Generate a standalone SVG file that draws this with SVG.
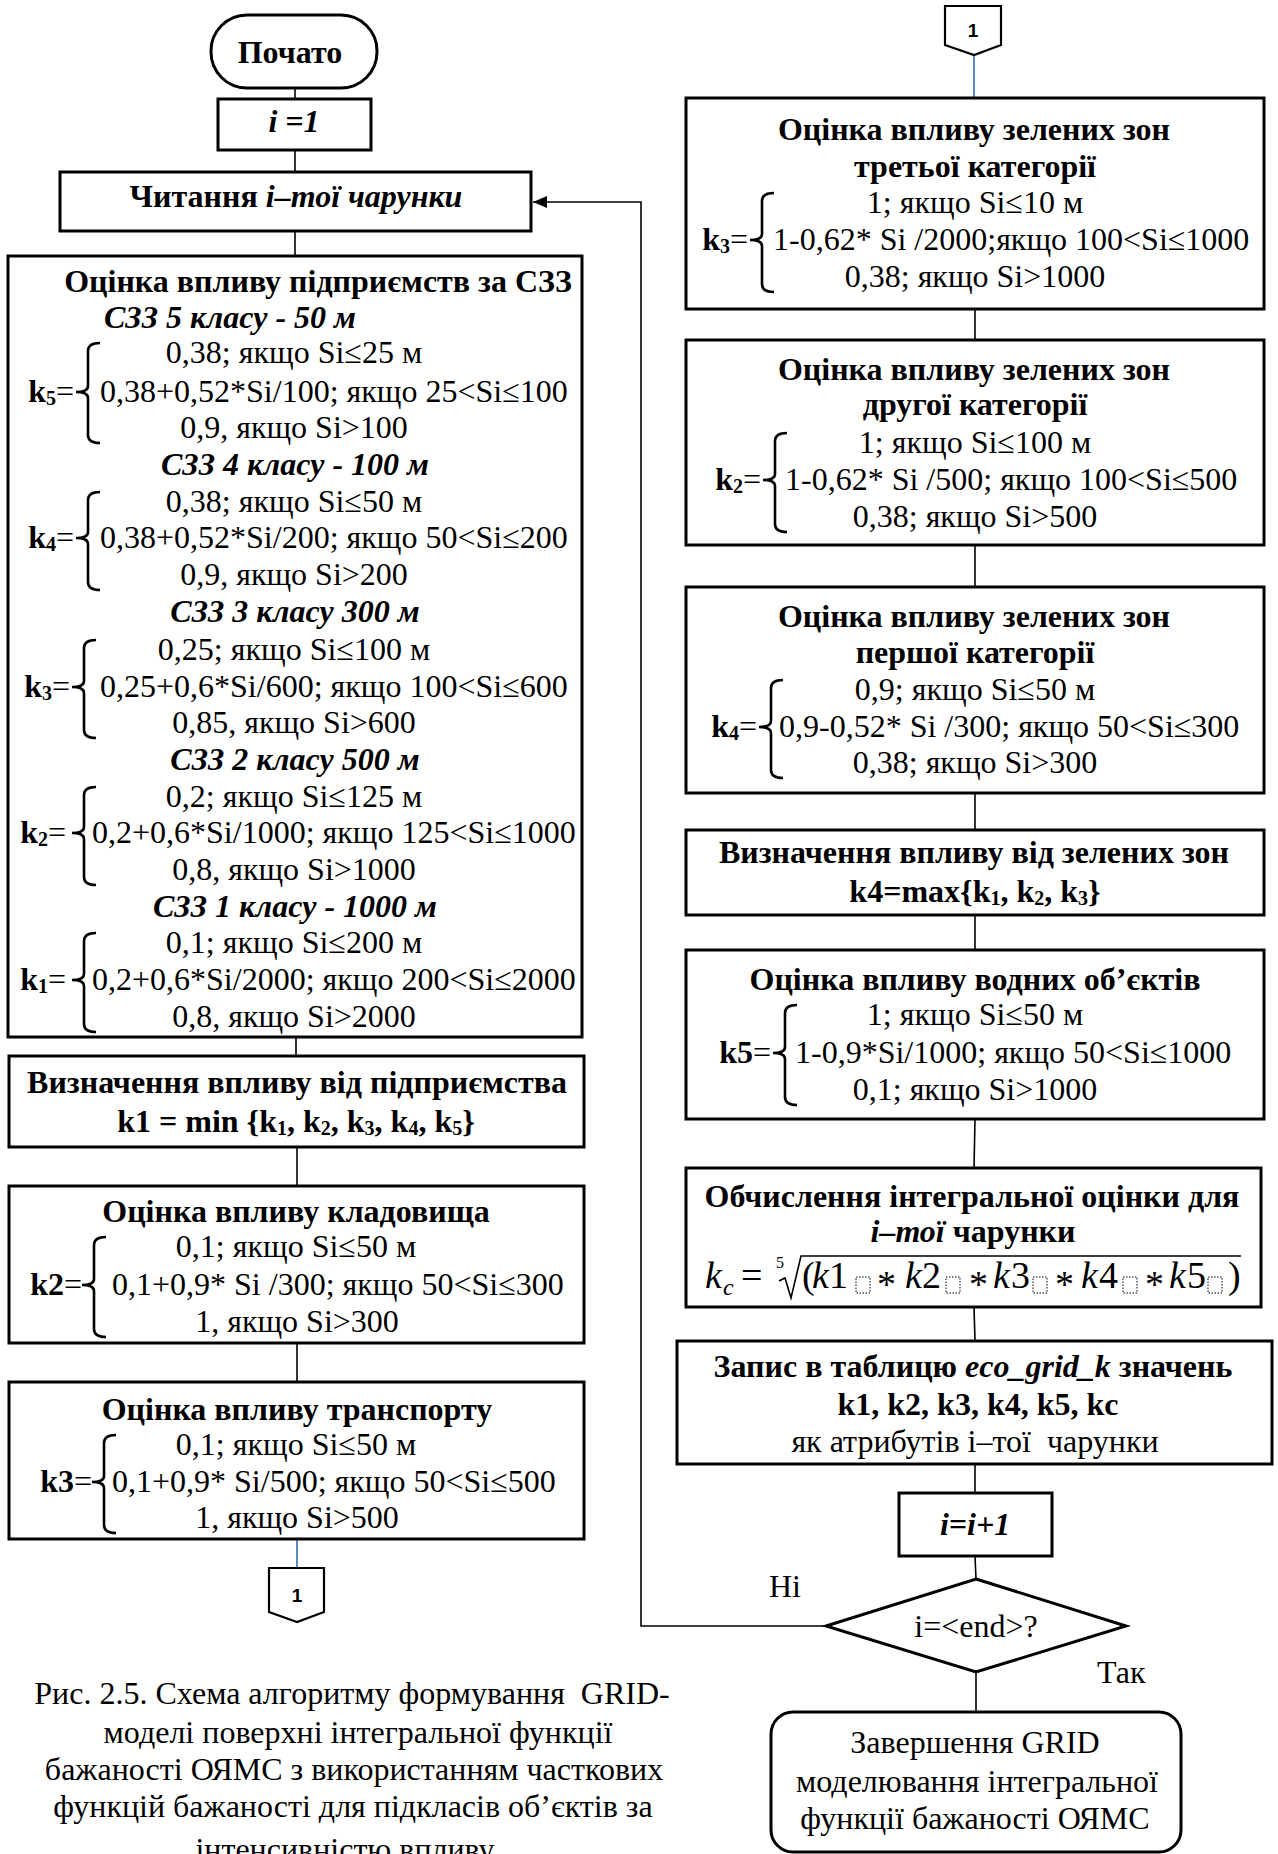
<svg xmlns="http://www.w3.org/2000/svg" width="1278" height="1854" viewBox="0 0 1278 1854">
<style>
.bx{fill:#fff;stroke:#000;stroke-width:3}
.t{font-family:"Liberation Serif","Times New Roman",serif;font-size:32px;fill:#000}
.b{font-weight:bold}
.i{font-style:italic}
.m{text-anchor:middle}
.e{text-anchor:end}
.n{font-weight:normal}
.sub{font-size:20px}
.c{stroke:#000;stroke-width:1.6;fill:none}
.bl{stroke:#4a7ebb;stroke-width:1.8;fill:none}
.br{stroke:#000;stroke-width:2.6;fill:none}
.off{fill:#fff;stroke:#000;stroke-width:2.2}
.ol{font-family:"Liberation Sans",Arial,sans-serif;font-weight:bold;font-size:19px;text-anchor:middle}
.mx{font-family:"Liberation Serif","Times New Roman",serif;font-size:38px;fill:#000}
</style>
<defs>
<marker id="ah" viewBox="0 0 14 12" refX="14" refY="6" markerWidth="14" markerHeight="12" markerUnits="userSpaceOnUse" orient="auto"><path d="M0,0 L14,6 L0,12 Z" fill="#000"/></marker>
</defs>
<rect width="1278" height="1854" fill="#fff"/>

<g id="connectors">
<line class="c" x1="295" y1="88" x2="295" y2="99"/>
<line class="c" x1="295" y1="150" x2="295" y2="172"/>
<line class="c" x1="295" y1="231" x2="295" y2="256"/>
<line class="c" x1="296" y1="1037" x2="296" y2="1056"/>
<line class="c" x1="297" y1="1147" x2="297" y2="1186"/>
<line class="c" x1="297" y1="1343" x2="297" y2="1382"/>
<line class="bl" x1="297" y1="1539" x2="297" y2="1568"/>
<line class="bl" x1="974" y1="55" x2="974" y2="98"/>
<line class="c" x1="975" y1="309" x2="975" y2="340"/>
<line class="c" x1="975" y1="545" x2="975" y2="587"/>
<line class="c" x1="975" y1="793" x2="975" y2="830"/>
<line class="c" x1="975" y1="915" x2="975" y2="950"/>
<line class="c" x1="975" y1="1119" x2="974" y2="1168"/>
<line class="c" x1="974" y1="1307" x2="975" y2="1341"/>
<line class="c" x1="975" y1="1464" x2="975" y2="1493"/>
<line class="c" x1="975" y1="1556" x2="976" y2="1579"/>
<line class="c" x1="976" y1="1672" x2="976" y2="1712"/>
<polyline class="c" points="826,1626 641,1626 641,202 533,202" marker-end="url(#ah)"/>
<text class="t" x="769" y="1597">Ні</text>
<text class="t" x="1097" y="1683">Так</text>
</g>

<g id="start">
<rect class="bx" x="211" y="15" width="166" height="73" rx="36" ry="36"/>
<text class="t b m" x="290" y="63">Почато</text>
</g>

<g id="init">
<rect class="bx" x="218" y="99" width="153" height="51"/>
<text class="t b i m" x="294" y="132">i =1</text>
</g>

<g id="read">
<rect class="bx" x="60" y="172" width="471" height="59"/>
<text class="t b m" x="296" y="207">Читання <tspan class="i">і–тої чарунки</tspan></text>
</g>

<g id="szz">
<rect class="bx" x="8" y="256" width="574" height="781"/>
<text class="t b m" x="318" y="292">Оцінка впливу підприємств за СЗЗ</text>
<text class="t b i" x="104" y="328">СЗЗ 5 класу - 50 м</text>
<text class="t m" x="294" y="363">0,38; якщо Si≤25 м</text>
<text class="t b e" x="74" y="402">k<tspan class="sub" dy="3">5</tspan><tspan class="n" dy="-3">=</tspan></text>
<text class="t" x="100" y="402">0,38+0,52*Si/100; якщо 25&lt;Si≤100</text>
<text class="t m" x="294" y="438">0,9, якщо Si&gt;100</text>
<text class="t b i m" x="295" y="475">СЗЗ 4 класу - 100 м</text>
<text class="t m" x="294" y="512">0,38; якщо Si≤50 м</text>
<text class="t b e" x="74" y="548">k<tspan class="sub" dy="3">4</tspan><tspan class="n" dy="-3">=</tspan></text>
<text class="t" x="100" y="548">0,38+0,52*Si/200; якщо 50&lt;Si≤200</text>
<text class="t m" x="294" y="585">0,9, якщо Si&gt;200</text>
<text class="t b i m" x="295" y="622">СЗЗ 3 класу 300 м</text>
<text class="t m" x="294" y="660">0,25; якщо Si≤100 м</text>
<text class="t b e" x="70" y="697">k<tspan class="sub" dy="3">3</tspan><tspan class="n" dy="-3">=</tspan></text>
<text class="t" x="100" y="697">0,25+0,6*Si/600; якщо 100&lt;Si≤600</text>
<text class="t m" x="294" y="733">0,85, якщо Si&gt;600</text>
<text class="t b i m" x="295" y="770">СЗЗ 2 класу 500 м</text>
<text class="t m" x="294" y="807">0,2; якщо Si≤125 м</text>
<text class="t b e" x="66" y="843">k<tspan class="sub" dy="3">2</tspan><tspan class="n" dy="-3">=</tspan></text>
<text class="t" x="92" y="843">0,2+0,6*Si/1000; якщо 125&lt;Si≤1000</text>
<text class="t m" x="294" y="880">0,8, якщо Si&gt;1000</text>
<text class="t b i m" x="295" y="917">СЗЗ 1 класу - 1000 м</text>
<text class="t m" x="294" y="953">0,1; якщо Si≤200 м</text>
<text class="t b e" x="66" y="990">k<tspan class="sub" dy="3">1</tspan><tspan class="n" dy="-3">=</tspan></text>
<text class="t" x="92" y="990">0,2+0,6*Si/2000; якщо 200&lt;Si≤2000</text>
<text class="t m" x="294" y="1027">0,8, якщо Si&gt;2000</text>
<path class="br" d="M100,343 Q88,343 88,351 L88,386 Q88,392 76,392 Q88,392 88,398 L88,435 Q88,443 100,443"/>
<path class="br" d="M100,492 Q88,492 88,500 L88,532 Q88,538 76,538 Q88,538 88,544 L88,582 Q88,590 100,590"/>
<path class="br" d="M96,640 Q84,640 84,648 L84,681 Q84,687 72,687 Q84,687 84,693 L84,730 Q84,738 96,738"/>
<path class="br" d="M96,787 Q84,787 84,795 L84,827 Q84,833 72,833 Q84,833 84,839 L84,877 Q84,885 96,885"/>
<path class="br" d="M96,933 Q84,933 84,941 L84,974 Q84,980 72,980 Q84,980 84,986 L84,1024 Q84,1032 96,1032"/>
</g>

<g id="min-enterprise">
<rect class="bx" x="9" y="1056" width="575" height="91"/>
<text class="t b m" x="297" y="1093">Визначення впливу від підприємства</text>
<text class="t b m" x="296" y="1132">k1 = min {k<tspan class="sub" dy="3">1</tspan><tspan dy="-3">, k</tspan><tspan class="sub" dy="3">2</tspan><tspan dy="-3">, k</tspan><tspan class="sub" dy="3">3</tspan><tspan dy="-3">, k</tspan><tspan class="sub" dy="3">4</tspan><tspan dy="-3">, k</tspan><tspan class="sub" dy="3">5</tspan><tspan dy="-3">}</tspan></text>
</g>

<g id="cemetery">
<rect class="bx" x="9" y="1186" width="575" height="157"/>
<text class="t b m" x="296" y="1222">Оцінка впливу кладовища</text>
<text class="t m" x="296" y="1257">0,1; якщо Si≤50 м</text>
<text class="t b e" x="82" y="1295">k2<tspan class="n">=</tspan></text>
<text class="t" x="112" y="1295">0,1+0,9* Si /300; якщо 50&lt;Si≤300</text>
<text class="t m" x="297" y="1332">1, якщо Si&gt;300</text>
<path class="br" d="M106,1237 Q94,1237 94,1245 L94,1279 Q94,1285 82,1285 Q94,1285 94,1291 L94,1329 Q94,1337 106,1337"/>
</g>

<g id="transport">
<rect class="bx" x="9" y="1382" width="575" height="157"/>
<text class="t b m" x="297" y="1420">Оцінка впливу транспорту</text>
<text class="t m" x="296" y="1455">0,1; якщо Si≤50 м</text>
<text class="t b e" x="92" y="1492">k3<tspan class="n">=</tspan></text>
<text class="t" x="112" y="1492">0,1+0,9* Si/500; якщо 50&lt;Si≤500</text>
<text class="t m" x="297" y="1528">1, якщо Si&gt;500</text>
<path class="br" d="M116,1435 Q104,1435 104,1443 L104,1476 Q104,1482 92,1482 Q104,1482 104,1488 L104,1525 Q104,1533 116,1533"/>
</g>

<g id="offpage-out">
<polygon class="off" points="269,1568 324,1568 324,1612 297,1622 269,1612"/>
<text class="ol" x="297" y="1602">1</text>
</g>

<g id="offpage-in">
<polygon class="off" points="945,6 1001,6 1001,45 974,55 945,45"/>
<text class="ol" x="973" y="37">1</text>
</g>

<g id="green3">
<rect class="bx" x="686" y="98" width="578" height="211"/>
<text class="t b m" x="974" y="140">Оцінка впливу зелених зон</text>
<text class="t b m" x="975" y="177">третьої категорії</text>
<text class="t m" x="975" y="213">1; якщо Si≤10 м</text>
<text class="t b e" x="748" y="250">k<tspan class="sub" dy="3">3</tspan><tspan class="n" dy="-3">=</tspan></text>
<text class="t" x="773" y="250">1-0,62* Si /2000;якщо 100&lt;Si≤1000</text>
<text class="t m" x="975" y="287">0,38; якщо Si&gt;1000</text>
<path class="br" d="M774,193 Q762,193 762,201 L762,234 Q762,240 750,240 Q762,240 762,246 L762,284 Q762,292 774,292"/>
</g>

<g id="green2">
<rect class="bx" x="686" y="340" width="578" height="205"/>
<text class="t b m" x="974" y="380">Оцінка впливу зелених зон</text>
<text class="t b m" x="975" y="415">другої категорії</text>
<text class="t m" x="975" y="453">1; якщо Si≤100 м</text>
<text class="t b e" x="761" y="490">k<tspan class="sub" dy="3">2</tspan><tspan class="n" dy="-3">=</tspan></text>
<text class="t" x="785" y="490">1-0,62* Si /500; якщо 100&lt;Si≤500</text>
<text class="t m" x="975" y="527">0,38; якщо Si&gt;500</text>
<path class="br" d="M787,433 Q775,433 775,441 L775,474 Q775,480 763,480 Q775,480 775,486 L775,524 Q775,532 787,532"/>
</g>

<g id="green1">
<rect class="bx" x="686" y="587" width="578" height="206"/>
<text class="t b m" x="974" y="627">Оцінка впливу зелених зон</text>
<text class="t b m" x="975" y="663">першої категорії</text>
<text class="t m" x="975" y="700">0,9; якщо Si≤50 м</text>
<text class="t b e" x="757" y="737">k<tspan class="sub" dy="3">4</tspan><tspan class="n" dy="-3">=</tspan></text>
<text class="t" x="779" y="737">0,9-0,52* Si /300; якщо 50&lt;Si≤300</text>
<text class="t m" x="975" y="773">0,38; якщо Si&gt;300</text>
<path class="br" d="M783,680 Q771,680 771,688 L771,721 Q771,727 759,727 Q771,727 771,733 L771,770 Q771,778 783,778"/>
</g>

<g id="max-green">
<rect class="bx" x="686" y="830" width="578" height="85"/>
<text class="t b m" x="974" y="863">Визначення впливу від зелених зон</text>
<text class="t b m" x="975" y="902">k4=max{k<tspan class="sub" dy="3">1</tspan><tspan dy="-3">, k</tspan><tspan class="sub" dy="3">2</tspan><tspan dy="-3">, k</tspan><tspan class="sub" dy="3">3</tspan><tspan dy="-3">}</tspan></text>
</g>

<g id="water">
<rect class="bx" x="686" y="950" width="578" height="169"/>
<text class="t b m" x="975" y="990">Оцінка впливу водних об’єктів</text>
<text class="t m" x="975" y="1025">1; якщо Si≤50 м</text>
<text class="t b e" x="771" y="1063">k5<tspan class="n">=</tspan></text>
<text class="t" x="795" y="1063">1-0,9*Si/1000; якщо 50&lt;Si≤1000</text>
<text class="t m" x="975" y="1100">0,1; якщо Si&gt;1000</text>
<path class="br" d="M797,1005 Q785,1005 785,1013 L785,1047 Q785,1053 773,1053 Q785,1053 785,1059 L785,1097 Q785,1105 797,1105"/>
</g>

<g id="integral">
<rect class="bx" x="686" y="1168" width="575" height="139"/>
<text class="t b m" x="972" y="1207">Обчислення інтегральної оцінки для</text>
<text class="t b m" x="973" y="1242"><tspan class="i">і–тої</tspan> чарунки</text>
<text class="mx"><tspan class="i" x="705" y="1288">k</tspan><tspan class="i" x="723" y="1295" font-size="24">c</tspan><tspan x="741" y="1288">=</tspan><tspan x="776" y="1268" font-size="16">5</tspan><tspan x="802" y="1288">(</tspan><tspan class="i" x="812" y="1288">k</tspan><tspan x="829" y="1288">1</tspan><tspan x="877" y="1297">*</tspan><tspan class="i" x="905" y="1288">k</tspan><tspan x="922" y="1288">2</tspan><tspan x="969" y="1297">*</tspan><tspan class="i" x="993" y="1288">k</tspan><tspan x="1011" y="1288">3</tspan><tspan x="1055" y="1297">*</tspan><tspan class="i" x="1081" y="1288">k</tspan><tspan x="1099" y="1288">4</tspan><tspan x="1145" y="1297">*</tspan><tspan class="i" x="1169" y="1288">k</tspan><tspan x="1187" y="1288">5</tspan><tspan x="1228" y="1288">)</tspan></text>
<polyline class="c" stroke-width="2" points="779,1281 785,1278 791,1298 801,1256 1241,1256"/>
<g fill="none" stroke="#000" stroke-width="1" stroke-dasharray="1.5,1.5">
<rect x="856" y="1277" width="14" height="16"/>
<rect x="946" y="1277" width="14" height="16"/>
<rect x="1033" y="1277" width="14" height="16"/>
<rect x="1123" y="1277" width="14" height="16"/>
<rect x="1208" y="1277" width="14" height="16"/>
</g>
</g>

<g id="write">
<rect class="bx" x="677" y="1341" width="595" height="123"/>
<text class="t b m" x="973" y="1377">Запис в таблицю <tspan class="i">eco_grid_k</tspan> значень</text>
<text class="t b m" x="978" y="1415">k1, k2, k3, k4, k5, kc</text>
<text class="t m" x="975" y="1452" xml:space="preserve">як атрибутів і–тої  чарунки</text>
</g>

<g id="increment">
<rect class="bx" x="899" y="1493" width="153" height="63" stroke-width="4"/>
<text class="t b i m" x="975" y="1535">i=i+1</text>
</g>

<g id="decision">
<polygon class="bx" points="976,1579 1126,1626 976,1672 826,1626"/>
<text class="t m" x="976" y="1637">i=&lt;end&gt;?</text>
</g>

<g id="end">
<rect class="bx" x="771" y="1712" width="410" height="140" rx="22" ry="22"/>
<text class="t m" x="975" y="1753">Завершення GRID</text>
<text class="t m" x="977" y="1792">моделювання інтегральної</text>
<text class="t m" x="975" y="1829">функції бажаності ОЯМС</text>
</g>

<g id="caption">
<text class="t m" x="352" y="1704" xml:space="preserve">Рис. 2.5. Схема алгоритму формування  GRID-</text>
<text class="t m" x="358" y="1743">моделі поверхні інтегральної функції</text>
<text class="t m" x="354" y="1780">бажаності ОЯМС з використанням часткових</text>
<text class="t m" x="353" y="1817">функцій бажаності для підкласів об’єктів за</text>
<text class="t m" x="345" y="1860">інтенсивністю впливу</text>
</g>
</svg>
